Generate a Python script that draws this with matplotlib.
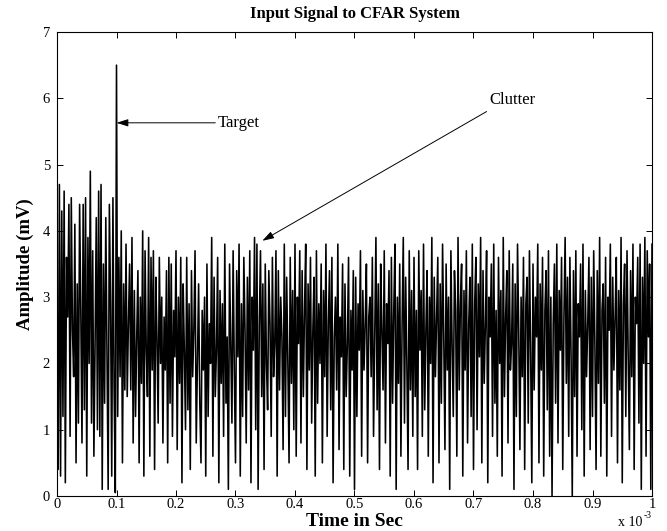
import numpy as np
import matplotlib
matplotlib.use("Agg")
import matplotlib.pyplot as plt

plt.rcParams['font.family'] = ['Liberation Serif', 'DejaVu Serif']

# time in seconds (0 .. 1 ms)
time_step_s = 2e-6
amplitude_mv = [
    3.0, 0.4, 4.7, 0.3, 4.3, 1.2, 4.6, 0.2, 3.6, 2.7, 4.4, 0.9, 4.5, 2.5, 1.8, 4.1, 0.5, 3.2, 1.1, 4.4,
    2.8, 0.8, 4.4, 1.3, 4.5, 0.3, 3.9, 2.0, 4.9, 1.1, 3.7, 0.6, 2.3, 4.2, 1.0, 4.6, 0.9, 4.7, 0.1, 3.5,
    1.4, 4.2, 2.2, 0.1, 4.4, 2.9, 0.3, 4.5, 1.6, 0.05,
    6.5, 1.2, 3.6, 1.8, 4.0, 0.5, 3.2, 1.6, 3.8, 1.5, 2.6, 3.5, 1.6, 3.9, 0.8, 3.1, 1.2, 2.4, 3.4, 0.5,
    3.0, 1.7, 4.0, 0.3, 3.7, 2.2, 1.5, 3.9, 0.6, 3.6, 1.9, 3.7, 0.4, 3.3, 2.4, 1.1, 3.6, 2.0, 3.0, 0.8,
    2.7, 1.9, 3.4, 0.5, 3.6, 1.4, 3.5, 0.9, 2.8, 2.1,
    3.7, 0.7, 3.0, 1.7, 3.6, 0.2, 3.2, 2.2, 1.0, 3.6, 1.3, 2.9, 0.4, 3.4, 1.8, 2.5, 3.7, 0.8, 2.0, 3.2,
    1.4, 0.5, 2.8, 1.9, 3.0, 0.3, 3.5, 1.2, 2.6, 2.0, 3.9, 0.6, 3.3, 1.5, 2.2, 3.6, 0.2, 3.1, 1.7, 2.9,
    0.9, 3.8, 1.4, 2.4, 0.1, 3.5, 2.3, 1.1, 3.7, 1.9,
    0.5, 3.4, 2.1, 3.8, 0.3, 2.9, 1.2, 3.6, 2.5, 0.8, 3.3, 1.6, 3.7, 0.2, 3.0, 2.2, 3.9, 1.0, 3.8, 0.1,
    2.6, 3.7, 1.5, 3.2, 0.4, 3.5, 2.0, 1.3, 3.4, 2.6, 0.9, 3.6, 1.8, 2.3, 3.7, 0.3, 3.4, 1.6, 3.0, 2.4,
    0.7, 3.8, 1.2, 3.3, 2.0, 0.5, 3.6, 1.7, 3.1, 1.0,
    3.8, 0.6, 3.0, 2.3, 3.7, 0.8, 3.4, 1.5, 2.8, 3.8, 0.4, 3.2, 1.9, 3.6, 1.1, 2.5, 3.3, 0.3, 3.7, 1.4,
    2.9, 2.0, 3.5, 0.5, 3.1, 1.8, 3.8, 0.9, 2.6, 3.4, 1.3, 3.6, 0.2, 2.4, 3.0, 1.6, 3.8, 0.7, 2.7, 2.1,
    3.5, 0.4, 3.2, 1.5, 2.3, 3.6, 0.3, 2.8, 1.9, 3.4,
    0.1, 3.3, 1.2, 2.9, 2.2, 3.7, 0.6, 3.1, 1.9, 2.6, 3.5, 0.5, 2.7, 3.0, 1.8, 3.6, 0.9, 2.4, 3.9, 1.3,
    3.2, 0.4, 3.5, 2.5, 1.6, 3.7, 0.8, 2.9, 2.3, 3.4, 0.3, 3.6, 1.4, 2.8, 3.8, 0.1, 3.0, 1.7, 3.5, 0.6,
    2.6, 3.9, 1.1, 3.3, 2.0, 0.4, 3.7, 1.6, 3.1, 0.9,
    3.6, 1.5, 2.8, 0.4, 3.7, 2.2, 3.1, 0.9, 3.8, 1.3, 2.5, 3.4, 0.6, 3.0, 2.0, 3.9, 0.2, 3.3, 1.8, 2.7,
    3.6, 0.5, 3.2, 1.4, 3.8, 2.4, 0.7, 3.5, 1.9, 3.0, 0.1, 3.7, 2.3, 1.2, 3.4, 2.8, 0.6, 3.9, 1.6, 2.9,
    3.5, 0.3, 3.1, 1.9, 3.7, 0.8, 2.6, 3.3, 1.2, 3.8,
    0.4, 2.9, 3.6, 1.0, 3.2, 2.1, 3.9, 0.5, 3.4, 1.7, 2.6, 3.7, 0.2, 3.0, 2.4, 3.5, 0.9, 3.8, 1.4, 2.8,
    0.6, 3.6, 2.0, 3.1, 0.3, 3.9, 1.5, 2.7, 3.4, 0.8, 3.7, 1.9, 2.3, 3.5, 0.1, 3.2, 1.2, 3.8, 2.5, 0.7,
    3.0, 1.8, 3.6, 0.4, 2.9, 3.3, 1.1, 3.7, 2.2, 0.2,
    3.5, 1.6, 3.0, 2.4, 3.8, 0.5, 3.2, 1.9, 3.6, 0.3, 2.8, 3.4, 1.3, 3.7, 0.6, 3.0, 0.0, 2.6, 3.5, 1.4,
    3.8, 0.8, 3.1, 2.2, 3.6, 0.4, 2.7, 3.9, 1.7, 3.3, 0.9, 3.6, 2.1, 0.0, 3.4, 1.5, 3.7, 0.6, 2.9, 2.4,
    3.5, 1.0, 3.8, 0.3, 3.1, 1.8, 2.6, 3.6, 0.7, 3.3,
    1.2, 3.7, 2.3, 0.4, 3.4, 1.7, 3.9, 0.6, 2.8, 3.2, 1.4, 3.6, 0.3, 3.0, 2.5, 3.8, 0.9, 3.3, 1.9, 2.7,
    3.6, 0.5, 3.1, 1.6, 3.9, 0.2, 2.9, 3.5, 1.2, 3.7, 2.1, 0.7, 3.4, 1.8, 3.8, 0.4, 3.0, 2.6, 3.6, 1.1,
    3.8, 0.1, 3.3, 2.0, 3.9, 0.6, 3.7, 2.4, 3.5, 0.1, 3.8,
]
time_s = np.arange(len(amplitude_mv)) * time_step_s

x_ticks_ms = [0, 0.1, 0.2, 0.3, 0.4, 0.5, 0.6, 0.7, 0.8, 0.9, 1]
x_tick_labels = ['0', '0.1', '0.2', '0.3', '0.4', '0.5', '0.6', '0.7', '0.8', '0.9', '1']
y_ticks = [0, 1, 2, 3, 4, 5, 6, 7]

W, H = 667, 531
AX_TOP, AX_BOT = 32, 496
AX_H = AX_BOT - AX_TOP
fig = plt.figure(figsize=(W / 100, H / 100), dpi=100)
ax = fig.add_axes([57 / W, 1 - AX_BOT / H, 595 / W, AX_H / H])
ax.plot(time_s, amplitude_mv, color='black', lw=1.15)

ax.set_xlim(0, 1e-3)
ax.set_ylim(0, 7)
ax.set_xticks([v * 1e-3 for v in x_ticks_ms])
ax.set_xticklabels(x_tick_labels)
ax.set_yticks(y_ticks)
ax.tick_params(direction='in', top=True, right=True, length=4, width=0.7,
               labelsize=10.5)
ax.tick_params(axis='x', pad=1.5)
ax.tick_params(axis='y', pad=5)
for s in ax.spines.values():
    s.set_linewidth(0.8)

ax.set_title('Input Signal to CFAR System', fontsize=12, fontweight='bold', pad=10)
ax.set_xlabel('Time in Sec', fontsize=14, fontweight='bold', va='bottom')
ax.xaxis.set_label_coords(0.5, -(530 - AX_BOT) / AX_H)
ax.set_ylabel('Amplitude (mV)', fontsize=13.5, fontweight='bold', labelpad=6)

fig.text(618 / W, 1 - 526 / H, 'x 10', fontsize=10, ha='left', va='baseline')
fig.text(644 / W, 1 - 518 / H, '-3', fontsize=7, ha='left', va='baseline')

arrow_kw = dict(arrowstyle='-|>,head_length=0.7,head_width=0.22', color='black',
                lw=0.7, shrinkA=0, shrinkB=0)
ax.annotate('', xy=(0.1e-3, 5.63), xytext=(0.266e-3, 5.63), arrowprops=arrow_kw)
ax.text(0.27e-3, 5.63, 'Target', fontsize=12, ha='left', va='center')
ax.annotate('', xy=(0.345e-3, 3.85), xytext=(0.722e-3, 5.8), arrowprops=arrow_kw)
ax.text(0.727e-3, 5.97, 'Clutter', fontsize=12, ha='left', va='center')

fig.savefig('out.png', dpi=100)
